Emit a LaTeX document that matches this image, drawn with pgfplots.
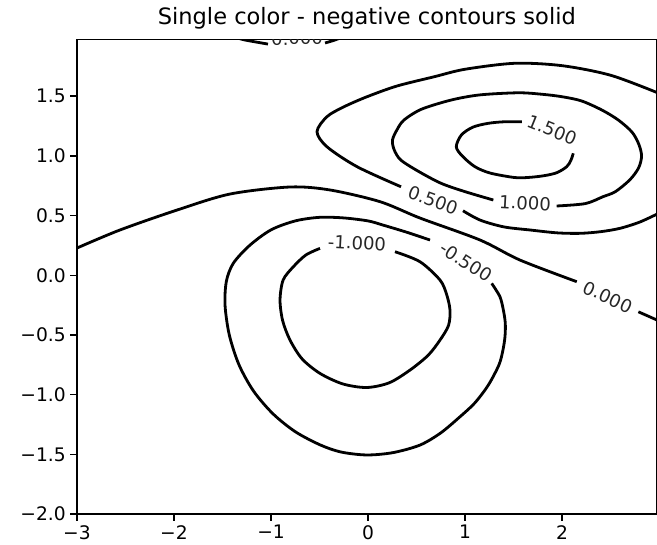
\documentclass[border=0pt]{standalone}
\usepackage{fontspec}
\setmainfont{DejaVu Sans}
\usepackage{pgfplots}
\pgfplotsset{compat=1.18}
\tikzset{
    clabel/.style={font=\fontsize{13.5}{15}\selectfont, inner sep=0pt, text=black!85},
    cline/.style={black, solid, line width=2.1pt, smooth, mark=none},
}

\begin{document}
\begin{tikzpicture}
\begin{axis}[
    scale only axis,
    width=434.7pt, height=356pt,
    xmin=-3, xmax=2.975, ymin=-2, ymax=1.975,
    xtick={-3,-2,-1,0,1,2},
    xticklabels={−3,−2,−1,0,1,2},
    ytick={-2,-1.5,-1,-0.5,0,0.5,1,1.5},
    yticklabels={−2.0,−1.5,−1.0,−0.5,0.0,0.5,1.0,1.5},
    tick pos=left, tick align=outside,
    major tick length=4.9pt,
    tick style={black, line width=1.1pt},
    axis line style={line width=1.1pt},
    ticklabel style={font=\fontsize{14}{16}\selectfont},
    title={Single color - negative contours solid},
    title style={font=\fontsize{16.9}{20}\selectfont, anchor=base, yshift=5pt},
]
% level 0.0, lower branch
\addplot[cline] coordinates {(-3,0.228) (-2.557,0.379) (-1.969,0.546) (-1.423,0.680)
  (-0.804,0.739) (-0.392,0.714) (0.124,0.616) (0.536,0.479) (1.155,0.295)
  (1.567,0.127) (2.152,-0.054)};
\addplot[cline] coordinates {(2.787,-0.306) (2.979,-0.375)};
% level 0.0, upper branch
\addplot[cline] coordinates {(-1.40,2.00) (-1.268,1.970) (-1.031,1.936)};
\addplot[cline] coordinates {(-0.443,1.945) (-0.340,1.970) (-0.25,2.00)};
% level 0.5
\addplot[cline] coordinates {(2.979,1.530) (2.5,1.675) (2.0,1.755) (1.515,1.775)
  (1.0,1.725) (0.686,1.663) (0.30,1.585) (-0.010,1.495) (-0.25,1.41)
  (-0.423,1.328) (-0.526,1.202) (-0.423,1.076) (-0.113,0.909) (0.340,0.741)};
\addplot[cline] coordinates {(0.979,0.540) (1.155,0.462) (1.40,0.405) (1.670,0.379)
  (1.95,0.355) (2.186,0.351) (2.40,0.365) (2.598,0.393) (2.80,0.445) (2.979,0.512)};
% level 1.0
\addplot[cline] coordinates {(1.292,0.630) (1.0,0.70) (0.753,0.770) (0.52,0.87)
  (0.338,0.965) (0.27,1.05) (0.252,1.132) (0.30,1.22) (0.371,1.300) (0.55,1.39)
  (0.856,1.467) (1.15,1.51) (1.55,1.528) (1.80,1.515) (2.0,1.495) (2.2,1.46)
  (2.41,1.384) (2.58,1.30) (2.72,1.20) (2.79,1.10) (2.82,1.0) (2.79,0.90)
  (2.70,0.80) (2.55,0.70) (2.42,0.657) (2.24,0.60) (1.945,0.580)};
% level 1.5
\addplot[cline] coordinates {(2.116,1.021) (2.09,0.96) (2.048,0.909) (1.95,0.86)
  (1.825,0.835) (1.67,0.82) (1.515,0.818) (1.258,0.856) (1.10,0.91) (0.97,1.00)
  (0.910,1.076) (0.962,1.174) (1.08,1.24) (1.237,1.272) (1.40,1.285) (1.586,1.286)};
% level -0.5
\addplot[cline] coordinates {(1.275,-0.068) (1.36,-0.18) (1.395,-0.291) (1.415,-0.40)
  (1.412,-0.515) (1.39,-0.63) (1.35,-0.75) (1.24,-0.92) (1.10,-1.07) (0.948,-1.185)
  (0.75,-1.32) (0.536,-1.422) (0.26,-1.485) (-0.013,-1.505) (-0.28,-1.48)
  (-0.495,-1.42) (-0.75,-1.31) (-0.98,-1.16) (-1.18,-0.97) (-1.33,-0.75)
  (-1.43,-0.50) (-1.474,-0.25) (-1.46,-0.05) (-1.389,0.100) (-1.22,0.25)
  (-1.0,0.38) (-0.75,0.455) (-0.50,0.485) (-0.25,0.48) (0.0,0.455) (0.155,0.420)
  (0.40,0.36) (0.639,0.295)};
% level -1.0
\addplot[cline] coordinates {(0.278,0.197) (0.536,0.113) (0.742,-0.040) (0.81,-0.16)
  (0.845,-0.291) (0.83,-0.42) (0.742,-0.543) (0.62,-0.67) (0.433,-0.794)
  (0.22,-0.90) (-0.013,-0.940) (-0.26,-0.91) (-0.495,-0.822) (-0.68,-0.70)
  (-0.804,-0.543) (-0.88,-0.38) (-0.907,-0.208) (-0.875,-0.04) (-0.77,0.071)
  (-0.64,0.17) (-0.495,0.225)};

% inline labels
\node[clabel, rotate=-22] at (axis cs:1.897,1.216) {1.500};
\node[clabel, rotate=-20] at (axis cs:0.670,0.630) {0.500};
\node[clabel, rotate=-3] at (axis cs:1.619,0.605) {1.000};
\node[clabel, rotate=-3] at (axis cs:-0.113,0.270) {-1.000};
\node[clabel, rotate=-33] at (axis cs:1.010,0.112) {-0.500};
\node[clabel, rotate=-25] at (axis cs:2.474,-0.183) {0.000};
\begin{scope}
  \clip (rel axis cs:0,0) rectangle (rel axis cs:1,1);
  \node[clabel, rotate=2] at (axis cs:-0.732,1.987) {0.000};
\end{scope}
\end{axis}
\pgfresetboundingbox
\path[use as bounding box] ([shift={(-57.75pt,-22.5pt)}]current axis.south west)
  rectangle ([shift={(0.3pt,29.55pt)}]current axis.north east);
\end{tikzpicture}
\end{document}
